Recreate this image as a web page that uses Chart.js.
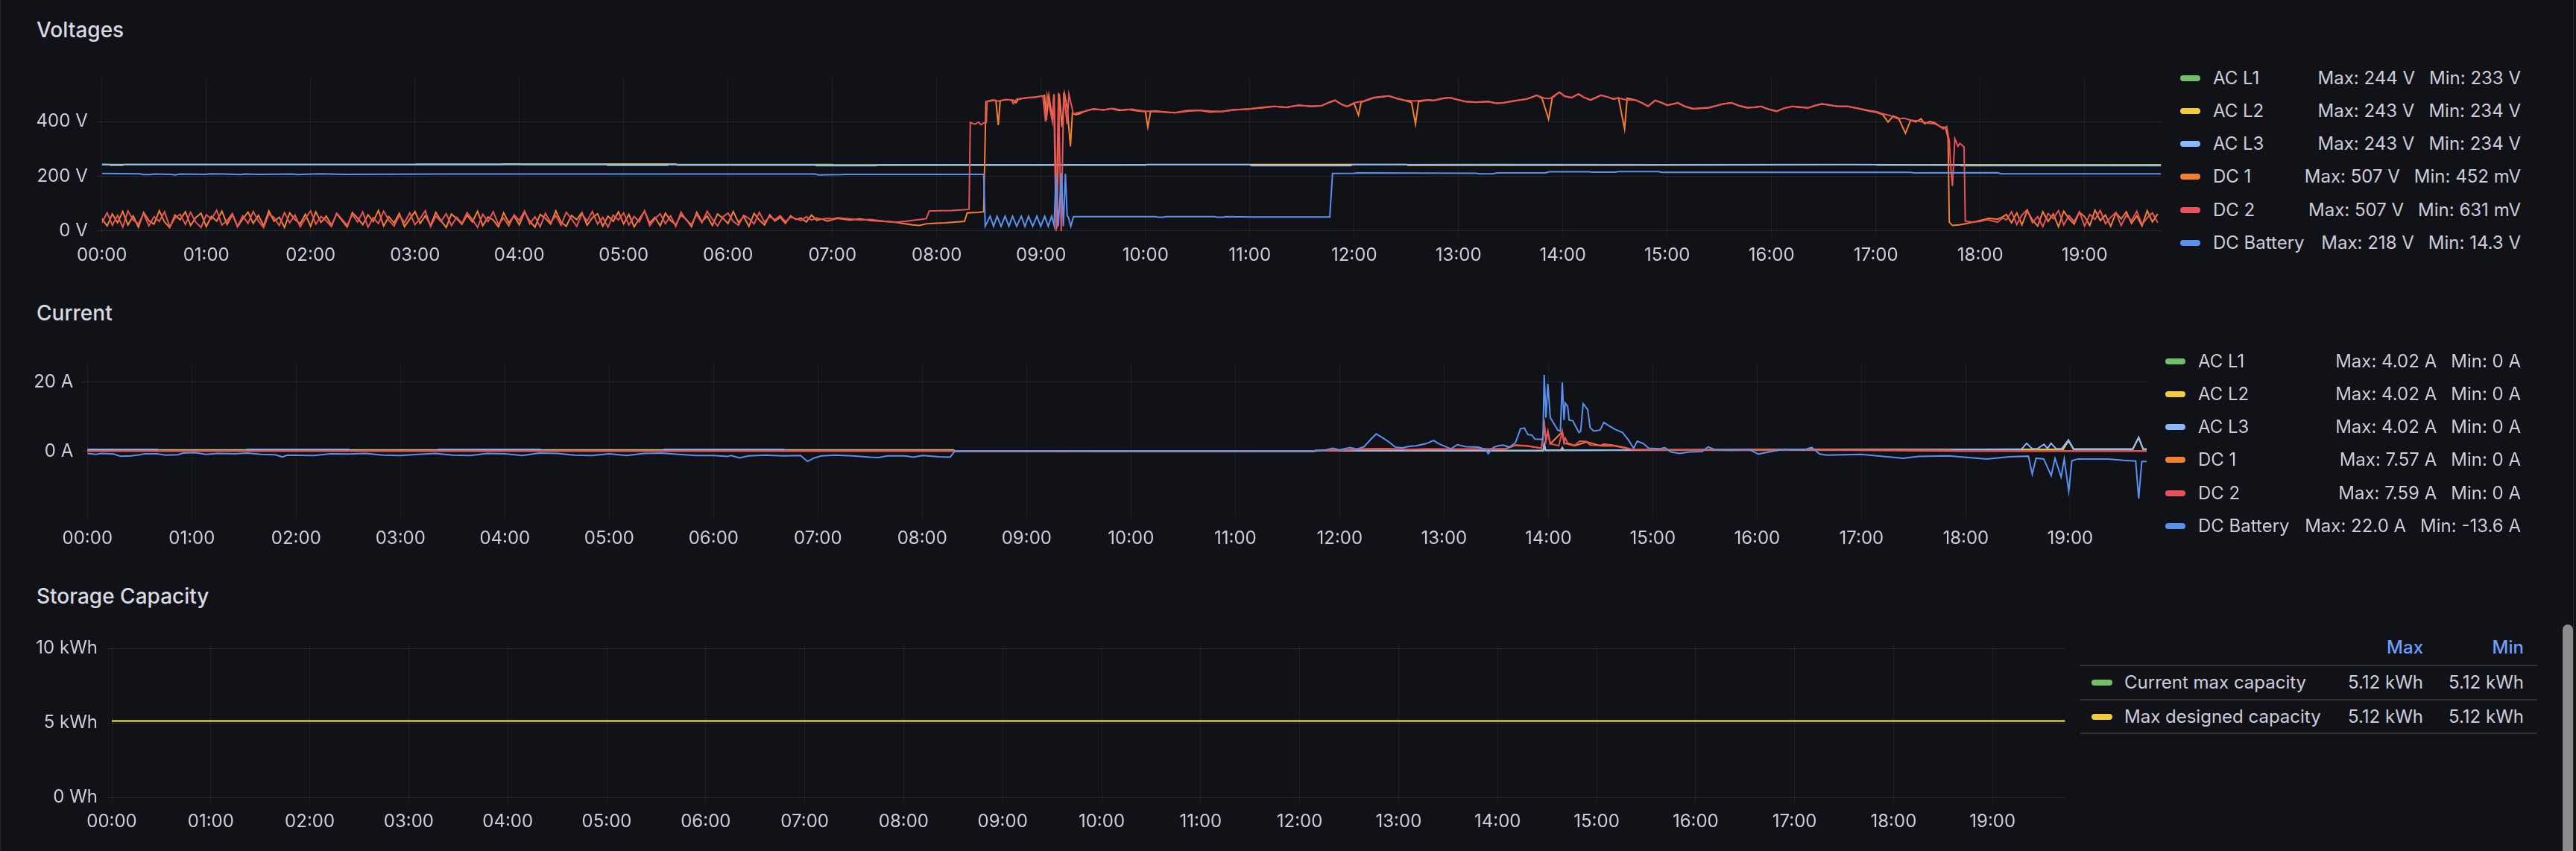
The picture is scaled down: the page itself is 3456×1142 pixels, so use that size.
<!DOCTYPE html>
<html>
<head>
<meta charset="utf-8">
<script src="https://cdn.jsdelivr.net/npm/chart.js@4"></script>
<style>
  html, body { margin:0; padding:0; }
  body { width:3456px; height:1142px; background:#111217; overflow:hidden; position:relative;
         font-family: Inter, "Noto Sans", "DejaVu Sans", sans-serif; color:#ccccdc; }
  .frame { position:absolute; left:0; top:0; width:3451px; height:1142px;
           border-left:1px solid #26282d; border-right:1px solid #26282d; }
  .title { position:absolute; left:49px; font-size:28px; font-weight:500; line-height:28px; color:#d8d9e3; white-space:nowrap; }
  .cv { position:absolute; left:0; }
  .legend { position:absolute; }
  .row { position:absolute; left:0; right:0; height:30px; display:flex; align-items:center; font-size:24px; line-height:30px; white-space:nowrap; }
  .sw { width:27px; height:8px; border-radius:4px; flex:none; }
  .vals { margin-left:auto; display:flex; gap:19px; }
  .abs { position:absolute; white-space:nowrap; font-size:24px; line-height:30px; }
  .hline { position:absolute; height:2px; background:#303238; }
  .scroll { position:absolute; left:3438px; top:838px; width:14px; height:330px; border-radius:7px; background:#8c8c8c; }
</style>
</head>
<body>
<div class="frame"></div>
<div class="title" style="top:26px">Voltages</div>
<div class="title" style="top:406px">Current</div>
<div class="title" style="top:786px">Storage Capacity</div>
<canvas id="cVolt" class="cv" style="top:75px" width="2910" height="295"></canvas>
<canvas id="cCurr" class="cv" style="top:455px" width="2890" height="295"></canvas>
<canvas id="cCap" class="cv" style="top:835px" width="2780" height="295"></canvas>
<div id="legVolt" class="legend" style="left:2925px; width:457px; top:0; height:360px"></div>
<div id="legCurr" class="legend" style="left:2905px; width:477px; top:0; height:760px"></div>
<div id="legCap"></div>
<div class="scroll"></div>
<script>
// ---------- axis / tick data ----------
const hourTicks = [0,60,120,180,240,300,360,420,480,540,600,660,720,780,840,900,960,1020,1080,1140];
const hourLabels = ['00:00','01:00','02:00','03:00','04:00','05:00','06:00','07:00','08:00','09:00',
                    '10:00','11:00','12:00','13:00','14:00','15:00','16:00','17:00','18:00','19:00'];
const rangeEnd = 1184; // minutes since 00:00 (19:44)

const voltTicks = [0, 200, 400];
const voltTickLabels = ['0 V', '200 V', '400 V'];
const currTicks = [0, 20];
const currTickLabels = ['0 A', '20 A'];
const capTicks = [0, 5, 10];
const capTickLabels = ['0 Wh', '5 kWh', '10 kWh'];

// ---------- series names / colours / legend stats ----------
const phaseNames = ['AC L1', 'AC L2', 'AC L3', 'DC 1', 'DC 2', 'DC Battery'];
const phaseColors = ['#73bf69', '#f2cc3a', '#8ab8ff', '#f57f30', '#e8525a', '#5a91ee'];
const voltMax = ['Max: 244 V', 'Max: 243 V', 'Max: 243 V', 'Max: 507 V', 'Max: 507 V', 'Max: 218 V'];
const voltMin = ['Min: 233 V', 'Min: 234 V', 'Min: 234 V', 'Min: 452 mV', 'Min: 631 mV', 'Min: 14.3 V'];
const currMax = ['Max: 4.02 A', 'Max: 4.02 A', 'Max: 4.02 A', 'Max: 7.57 A', 'Max: 7.59 A', 'Max: 22.0 A'];
const currMin = ['Min: 0 A', 'Min: 0 A', 'Min: 0 A', 'Min: 0 A', 'Min: 0 A', 'Min: -13.6 A'];
const capNames = ['Current max capacity', 'Max designed capacity'];
const capColors = ['#73bf69', '#f2cc3a'];
const capMax = ['5.12 kWh', '5.12 kWh'];
const capMin = ['5.12 kWh', '5.12 kWh'];

// ---------- Voltages (V) ----------
const noiseStep = 3; // minutes between samples in noisy stretches
const dc1NightV = [45,18,62,30,71,22,55,14,68,38, 25,74,33,12,58,41,70,20,49,65, 16,53,36,72,24,60,15,44,69,28,
  57,19,73,35,50,13,66,42,26,61, 17,70,31,54,21,63,39,14,67,47, 23,59,34,75,18,52,29,64,16,43,
  71,27,56,20,68,37,13,62,45,24, 58,33,72,19,51,40,15,66,30,55, 22,69,36,14,60,46,25,73,32,17,
  57,41,67,21,48,63,18,54,35,70, 26,61,15,44,72,29,50,19,65,38, 23,58,42,16,68,34,55,20,62,47,
  27,71,31,53,17,64,40,22,59,36, 50,28,55,42,47,33,58,39,44,36, 41];
const dc2NightV = [30,66,21,57,14,73,40,26,63,19, 52,35,70,15,47,61,24,68,32,13, 59,44,75,22,38,64,17,55,28,71,
  36,12,62,49,20,67,30,58,15,46, 73,25,53,37,16,65,43,21,60,33, 69,14,48,27,72,39,18,57,31,66,
  23,45,74,16,54,35,63,20,50,28, 67,42,13,61,34,70,24,47,18,59, 38,73,26,52,15,64,31,56,21,68,
  44,17,62,36,71,25,49,14,58,40, 66,22,53,33,74,19,45,63,27,55, 16,69,39,24,60,30,72,43,18,51,
  65,35,21,57,46,26,68,32,52,41, 56,34,50,45,38,52,40,47,43,46, 44];
const dc1DayT = [423,430,436,442,448,455,461,466,470,474,478,485,492,496,497.5,504,507,508.3,512,514,
  515.4,516.5,520,524,525.5,527,532,537,542,543,544.5,546.5,547.5,549,550.5,552,553.5,555,556.9,558,
  560,562,566,570,576,580,585,590,596,600,601.4,603,610,617,625,631,637,644,650,659,
  667,674,681,688,695,701,706,709,713,716,720,722.5,724,731,736,740,745,749,753,755.3,
  757,762,766,771,775,779,784,790,797,802,806,812,819,822,825,828,831.8,834,838,841,
  845,849,852,856,860,862,866,869,872,875.5,877,882,886,889,893,897,900,904,906,910,
  915,919,924,928,932,937,941,946,950,954,958,963,967,972,976,981,985,989,993,998,
  1004,1010,1016,1020,1024,1027,1030,1033,1037,1040,1043,1046,1048,1051,1054,1057,1060,1061.5,1062.2,1064,
  1068,1072,1078,1085,1090,1093];
const dc1DayV = [46,40,44,38,36,33,27,22,20,26,28,30,33,35,66,68,70,473,478,477,
  387,476,480,478,468,481,487,489,495,405,494,410,498,8,500,380,500,450,309,430,
  425,428,440,445,442,447,440,444,438,436,380,437,435,432,438,441,435,437,442,446,
  450,455,452,459,455,457,470,477,462,455,466,423,470,486,490,493,483,477,470,391,
  472,478,477,484,487,480,473,470,473,466,468,475,482,488,496,485,409,490,507,492,
  487,500,488,478,490,496,489,482,486,373,485,478,466,455,477,468,459,465,468,455,
  446,448,450,457,464,468,458,450,452,455,445,437,448,455,452,450,458,464,460,455,
  455,447,438,434,425,398,420,412,357,405,398,410,392,400,395,380,378,340,32,20,
  22,27,35,46,43,52];
const dc2DayT = [423,430,436,442,450,456,462,468,474,475.7,482,488.6,494,498.6,499.3,502,504,505.5,507,508.5,
  509,513,516,519,523,524,526,531,536,541,542.6,543.5,546.5,547.3,548.6,550,551.6,553,555,556,
  558.6,561,566,570,576,581,587,592,600,606,612,617,624,631,637,644,651,659,667,674,
  681,688,695,701,706,709,713,716,720,725,731,736,740,745,749,755,762,766,771,775,
  779,784,790,797,802,806,812,819,822,825,829,832,835,838,841,845,849,852,856,860,
  862,866,869,872,876,882,886,889,893,897,900,904,906,910,915,919,924,928,932,937,
  941,946,950,954,958,963,967,972,976,981,985,989,993,998,1004,1010,1016,1020,1024,1028,
  1033,1036,1040,1044,1047,1050,1054,1057,1058.6,1060.7,1062.2,1062.9,1064,1065.4,1067.2,1068.3,1070.7,1071.4,1075.7,1080,
  1084,1088,1090,1093];
const dc2DayV = [48,44,40,42,35,32,35,40,45,73,74,75,77,79,396,390,398,388,395,396,
  473,477,474,480,479,465,482,486,488,493,400,495,400,500,0,505,0,505,390,500,
  427,432,438,446,442,448,441,445,437,439,434,432,440,441,438,436,442,445,452,455,
  451,459,456,457,472,478,462,455,468,474,487,491,493,484,478,475,479,477,485,487,
  481,473,471,473,467,469,476,482,489,496,486,483,491,507,493,487,501,489,479,491,
  496,489,483,486,480,478,467,456,477,469,460,465,469,456,447,449,451,457,464,469,
  459,451,452,455,446,438,448,455,453,450,458,465,461,455,455,448,440,436,428,422,
  409,412,405,402,398,394,391,382,373,382,328,246,164,337,309,320,307,36,32,35,
  41,35,32,48];
const eveStart = 1095;
const dc1EveV = [60,30,66,22,74,40,18,70,35,62, 15,72,45,25,68,52,20,76,38,58, 17,66,44,70,28,55,18,74,33,62];
const dc2EveV = [40,70,24,58,78,30,52,16,64,45, 74,22,56,34,70,18,60,42,75,26, 50,68,20,57,38,72,24,48,66,30];
const batVT = [0,22,24,28,30,40,42,45,60,62,70,80,82,90,110,112,125,140,200,300,
  410,412,425,428,440,507,507.9,510.7,512.7,514.7,517,519.3,521.5,523.6,526,528.6,530.7,532.8,535.2,537.6,
  539.8,542.1,544.1,546.1,547.5,548.6,549.9,551.7,552.8,554,555,555.7,557.1,558.6,606,607,610,612,640,641,
  645,646,662,665,706,707.6,720,722,790,792,800,802,830,832,855,857,870,872,895,897,
  1040,1042,1090,1092,1184];
const batVV = [210,209,206,206,208,207,205,208,207,209,208,206,208,207,208,206,209,207,208,208,
  208,205,206,207,207,207,17,54,17,54,17,54,17,54,17,54,17,54,17,54,
  17,54,17,54,20,209,17,211,17,209,55,50,17,52,52,50,50,52,52,50,
  50,52,51,51,51,210,211,212,211,209,209,212,212,216,216,215,215,217,217,214,
  214,212,213,209,209];
const acL1VT = [0,60,180,181,240,241,330,331,420,421,600,700,800,900,1000,1100,1184];
const acL1VV = [243,243,243,244,244,242,242,243,243,241,242,242,243,242,243,241,242];
const acL2VT = [0,100,230,231,330,331,600,601,750,751,900,1000,1184];
const acL2VV = [242,242,242,244,244,241,241,243,243,240,241,242,241];
const acL3VT = [0,4,5,12,13,290,291,325,326,410,411,445,446,660,661,718,719,1020,1021,1068,1069,1184];
const acL3VV = [243,243,240,240,243,243,240,240,242,242,239,239,242,242,239,239,242,242,241,241,239,239];

// ---------- Current (A) ----------
const batAT = [0,5,8,15,19,25,30,33,40,45,52,55,62,68,75,85,92,100,108,112,
  115,130,140,150,160,170,180,190,200,210,220,230,240,250,260,270,280,290,300,310,
  320,330,340,350,360,368,370,375,380,390,400,410,414,418,422,430,440,450,455,460,
  470,475,480,490,496,498.7,705,
  712,716,720,726,730,734,738,741,745,748,752,756,760,764,769.7,774,776.9,784,787.6,792.6,
  799.7,804,805.4,808.3,811.1,814,817.6,821.1,824,826.1,828.3,830.4,832.3,836.9,837.6,838.6,839.7,841.1,845.4,846.9,
  848,849,849.7,851.1,851.9,854,857.6,858.6,860,862.6,864,866.1,869.7,871.9,874,878.3,882.6,886.1,889,891.1,
  894.7,897.6,904,906.9,910.4,915.4,921.1,928.3,931.9,935.4,945,955,960.8,969.5,976,987,991.4,996,1000,1020,
  1044,1052.6,1070,1092,1105,1116,1118.2,1120.4,1124.8,1129.1,1131.3,1134.8,1136.6,1139.2,1141,1144.4,1162,1170.7,1177.7,1179.4,
  1181.2,1184];
const batAV = [-0.6,-0.9,-0.6,-0.8,-1.4,-1.3,-1.0,-0.7,-0.7,-1.1,-1.0,-0.5,-0.4,-0.9,-0.6,-0.7,-0.5,-0.9,-1.0,-1.6,
  -1.1,-1.2,-0.7,-0.8,-0.6,-1.1,-1.2,-0.9,-0.6,-1.1,-1.2,-0.6,-0.7,-1.2,-0.5,-0.6,-1.1,-1.2,-0.7,-1.2,
  -0.6,-0.5,-0.9,-1.2,-1.2,-1.5,-1.2,-1.9,-1.3,-1.1,-1.3,-1.2,-2.9,-1.9,-1.3,-1.1,-1.3,-1.7,-1.8,-1.3,
  -1.3,-1.7,-1.2,-1.6,-1.7,0,0,
  0.4,0.9,0.4,1.1,0.6,1.3,3.5,5.0,3.8,2.8,1.2,1.0,1.4,1.6,2.2,3.1,2.2,0.7,1.9,1.3,
  1.2,0.5,-0.7,1.1,1.6,1.8,1.2,2.5,6.5,6.7,4.8,4.7,3.5,3.4,22.0,9.7,19.4,9.7,6.1,5.8,
  19.8,9.0,13.9,12.9,9.0,8.8,5.4,5.8,13.7,12.0,6.8,5.8,6.1,8.3,7.6,6.3,5.4,3.2,0.9,2.9,
  2.2,0.9,0.7,1.1,-0.2,-0.6,-0.2,-0.1,1.3,0.5,0.3,0.6,-0.8,0.1,0.6,0.4,1.1,-0.8,-1.1,-0.9,
  -2.0,-1.5,-1.3,-2.2,-1.6,-1.4,-6.6,-2.0,-2.2,-7.0,-2.0,-7.4,-2.2,-11.5,-2.7,-2.2,-2.2,-2.6,-2.8,-13.6,
  -2.9,-2.9];
const dc2AT = [0,498,499,705,720,735,745,760,770,790,815,821,828,836,837.7,838.6,839.7,841.1,846,848,
  849,849.7,851.1,855,858,862,864,870,872,878,884,888,900,950,1000,1070,1075,1184];
const dc2AV = [0.1,0.1,0,0.1,0.3,0.7,0.8,0.5,0.7,0.6,0.7,1.8,1.6,0.9,7.6,3.2,5.8,2.2,1.6,5.8,
  2.5,3.8,2.4,1.7,2.9,2.8,1.8,1.7,2.1,1.7,1.1,0.5,0.4,0.3,0.4,0.3,0.1,0.1];
const dc1AT = [0,498,499,705,720,735,745,760,790,815,821,828,836,837.7,838.6,839.7,841.1,848,849,855,
  862,870,878,888,900,1000,1075,1184];
const dc1AV = [0.1,0.1,0,0.1,0.3,0.6,0.7,0.5,0.6,0.6,1.7,1.5,0.9,7.5,3.0,5.6,2.1,5.6,2.4,1.6,
  2.7,1.6,1.6,0.5,0.4,0.4,0.1,0.1];
const acL3AT = [0,40,42,90,92,150,152,200,202,260,262,330,332,400,402,498,499,705,706,837,
  837.6,838.4,847,848,849,1000,1110,1112,1115,1118,1121,1125,1127,1129,1132,1135,1139,1142,1176,1179.4,
  1182,1184];
const acL3AV = [0.5,0.5,0.2,0.2,0.5,0.5,0.2,0.2,0.5,0.5,0.2,0.2,0.5,0.5,0.2,0.2,0,0,0.2,0.2,
  2.2,0.3,0.3,1.1,0.3,0.4,0.6,0.6,2.3,0.8,0.7,2.0,0.8,2.3,0.7,0.7,3.2,0.6,0.6,4.0,
  0.6,0.6];
const acL1AT = [0,498,499,705,706,837,837.6,838.4,1000,1136,1139,1142,1176,1179.4,1182,1184];
const acL1AV = [0.4,0.4,0,0,0.2,0.2,2.0,0.3,0.5,0.6,3.3,0.6,0.6,4.0,0.6,0.6];
const acL2AT = [0,498,499,705,706,837,837.6,838.4,1000,1136,1139,1142,1176,1179.4,1182,1184];
const acL2AV = [0.3,0.3,0,0,0.2,0.2,1.8,0.3,0.5,0.6,3.0,0.6,0.6,3.9,0.6,0.6];

// ---------- Storage capacity (kWh) ----------
const capT = [0, 300, 600, 900, 1184];
const capCurrentV = [5.12, 5.12, 5.12, 5.12, 5.12];
const capDesignedV = [5.12, 5.12, 5.12, 5.12, 5.12];

// ---------- helpers ----------
const pairs = (ts, vs) => ts.map((t, i) => ({ x: t, y: vs[i] }));
const gridPts = (start, step, vs) => vs.map((v, i) => ({ x: start + i * step, y: v }));
const TEXT = '#ccccdc';
const FONT = { family: 'Inter, "Noto Sans", sans-serif', size: 24 };

function makeChart(id, seriesList, colors, yMin, yMax, yTicks, yLabels, yWidth, padRight) {
  const n = seriesList.length;
  const datasets = seriesList.map((d, i) => ({
    data: d, borderColor: colors[i], backgroundColor: colors[i],
    borderWidth: 2, pointRadius: 0, tension: 0, fill: false, order: n - i
  }));
  return new Chart(document.getElementById(id), {
    type: 'line',
    data: { datasets },
    options: {
      responsive: false, animation: false, devicePixelRatio: 1,
      parsing: true,
      layout: { padding: { top: 30, right: padRight, left: 0, bottom: 0 } },
      plugins: { legend: { display: false }, tooltip: { enabled: false } },
      scales: {
        x: {
          type: 'linear', min: 0, max: rangeEnd,
          afterBuildTicks: s => { s.ticks = hourTicks.map(v => ({ value: v })); },
          afterFit: s => { s.height = 52; },
          grid: { color: 'rgba(204,204,220,0.07)', drawTicks: false, lineWidth: 1 },
          border: { display: false },
          ticks: { color: TEXT, font: FONT, padding: 10, maxRotation: 0, autoSkip: false,
                   callback: (v, i) => hourLabels[i] }
        },
        y: {
          type: 'linear', min: yMin, max: yMax,
          afterBuildTicks: s => { s.ticks = yTicks.map(v => ({ value: v })); },
          afterFit: s => { s.width = yWidth; },
          grid: { color: 'rgba(204,204,220,0.12)', drawTicks: true, tickLength: 7, lineWidth: 1 },
          border: { display: false },
          ticks: { color: TEXT, font: FONT, padding: 12, callback: (v, i) => yLabels[i] }
        }
      }
    }
  });
}

// Voltages
makeChart('cVolt', [
  pairs(acL1VT, acL1VV),
  pairs(acL2VT, acL2VV),
  pairs(acL3VT, acL3VV),
  [...gridPts(0, noiseStep, dc1NightV), ...pairs(dc1DayT, dc1DayV), ...gridPts(eveStart, noiseStep, dc1EveV)],
  [...gridPts(0, noiseStep, dc2NightV), ...pairs(dc2DayT, dc2DayV), ...gridPts(eveStart, noiseStep, dc2EveV)],
  pairs(batVT, batVV)
], phaseColors, -22, 558, voltTicks, voltTickLabels, 136.7, 10.6);

// Current
makeChart('cCurr', [
  pairs(acL1AT, acL1AV),
  pairs(acL2AT, acL2AV),
  pairs(acL3AT, acL3AV),
  pairs(dc1AT, dc1AV),
  pairs(dc2AT, dc2AV),
  pairs(batAT, batAV)
], phaseColors, -19.8, 25.85, currTicks, currTickLabels, 117.3, 10);

// Storage capacity
makeChart('cCap', [
  pairs(capT, capCurrentV),
  pairs(capT, capDesignedV)
], capColors, -0.4, 10.25, capTicks, capTickLabels, 150, 9.4);

// ---------- HTML legends ----------
function listLegend(elId, rowsY, names, colors, maxes, mins, nameGap) {
  const el = document.getElementById(elId);
  names.forEach((name, i) => {
    const row = document.createElement('div');
    row.className = 'row';
    row.style.top = (rowsY[i] - 15) + 'px';
    row.innerHTML = '<span class="sw" style="background:' + colors[i] + ';margin-right:' + nameGap + 'px"></span>' +
      '<span>' + name + '</span>' +
      '<span class="vals"><span>' + maxes[i] + '</span><span>' + mins[i] + '</span></span>';
    el.appendChild(row);
  });
}
listLegend('legVolt', [105, 149, 193, 237, 282, 326], phaseNames, phaseColors, voltMax, voltMin, 17);
listLegend('legCurr', [485, 529, 573, 617, 662, 706], phaseNames, phaseColors, currMax, currMin, 17);

(function capLegend() {
  const el = document.getElementById('legCap');
  const add = (html) => { el.insertAdjacentHTML('beforeend', html); };
  add('<div class="abs" style="top:854px; right:205px; color:#6e9fff; font-weight:500">Max</div>');
  add('<div class="abs" style="top:854px; right:70px; color:#6e9fff; font-weight:500">Min</div>');
  [892, 938, 983].forEach(y => add('<div class="hline" style="top:' + y + 'px; left:2791px; width:613px"></div>'));
  const rowsY = [916, 961.7];
  capNames.forEach((name, i) => {
    const top = rowsY[i] - 15;
    add('<div class="sw" style="position:absolute; left:2806px; top:' + (rowsY[i] - 4) + 'px; width:28px; background:' + capColors[i] + '"></div>');
    add('<div class="abs" style="top:' + top + 'px; left:2850px">' + name + '</div>');
    add('<div class="abs" style="top:' + top + 'px; right:205px">' + capMax[i] + '</div>');
    add('<div class="abs" style="top:' + top + 'px; right:70px">' + capMin[i] + '</div>');
  });
})();
</script>
</body>
</html>
